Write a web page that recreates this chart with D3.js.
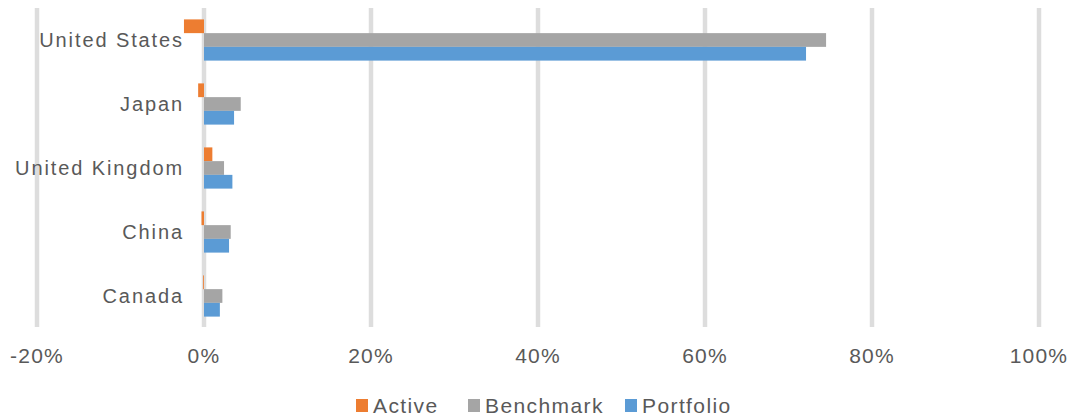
<!DOCTYPE html>
<html>
<head>
<meta charset="utf-8">
<script src="https://cdn.jsdelivr.net/npm/d3@7"></script>
<style>
  body { margin: 0; background: #fff; }
  text { font-family: "Liberation Sans", Arial, sans-serif; fill: #595959; }
</style>
</head>
<body>
<svg id="chart" width="1071" height="419"></svg>
<script>
// chart data (percent)
var countries = ["United States", "Japan", "United Kingdom", "China", "Canada"];
var seriesNames = ["Active", "Benchmark", "Portfolio"];
var active = [-2.4, -0.7, 1.0, -0.3, -0.1];
var benchmark = [74.5, 4.4, 2.4, 3.2, 2.2];
var portfolio = [72.1, 3.6, 3.4, 3.0, 1.9];
var xTicks = [-20, 0, 20, 40, 60, 80, 100];

var colors = {Active: "#ed7d31", Benchmark: "#a5a5a5", Portfolio: "#5b9bd5"};

// build rows from the arrays
var rows = countries.map(function(c, i) {
  return {country: c, values: [
    {name: "Active", value: active[i]},
    {name: "Benchmark", value: benchmark[i]},
    {name: "Portfolio", value: portfolio[i]}
  ]};
});

var svg = d3.select("#chart");

var x = d3.scaleLinear().domain([-20, 100]).range([37, 1039]);
var y0 = d3.scaleBand().domain(countries).range([8, 328]);
var y1 = d3.scaleBand().domain(seriesNames)
  .range([0, y0.bandwidth()])
  .paddingOuter(0.83);

// gridlines
svg.append("g").selectAll("line")
  .data(xTicks)
  .enter().append("line")
  .attr("x1", function(d) { return x(d); })
  .attr("x2", function(d) { return x(d); })
  .attr("y1", 8)
  .attr("y2", 327)
  .attr("stroke", "#dddddd")
  .attr("stroke-width", 4.5);

// bars
var group = svg.append("g").selectAll("g")
  .data(rows)
  .enter().append("g")
  .attr("transform", function(d) { return "translate(0," + y0(d.country) + ")"; });

group.selectAll("rect")
  .data(function(d) { return d.values; })
  .enter().append("rect")
  .attr("x", function(d) { return x(Math.min(0, d.value)); })
  .attr("width", function(d) { return Math.abs(x(d.value) - x(0)); })
  .attr("y", function(d) { return y1(d.name); })
  .attr("height", y1.bandwidth())
  .attr("fill", function(d) { return colors[d.name]; });

// category labels
svg.append("g").selectAll("text")
  .data(countries)
  .enter().append("text")
  .attr("x", 184)
  .attr("y", function(d) { return y0(d) + y0.bandwidth() / 2 + 7; })
  .attr("text-anchor", "end")
  .style("font-size", "20px")
  .style("letter-spacing", "1.9px")
  .text(function(d) { return d; });

// x tick labels
svg.append("g").selectAll("text")
  .data(xTicks)
  .enter().append("text")
  .attr("x", function(d) { return x(d); })
  .attr("y", 363)
  .attr("text-anchor", "middle")
  .style("font-size", "21px")
  .style("letter-spacing", "1.2px")
  .text(function(d) { return d + "%"; });

// legend
var legendX = [356, 468, 625];
var legend = svg.append("g").selectAll("g")
  .data(seriesNames)
  .enter().append("g")
  .attr("transform", function(d, i) { return "translate(" + legendX[i] + ",0)"; });

legend.append("rect")
  .attr("x", 0)
  .attr("y", 399)
  .attr("width", 12)
  .attr("height", 13)
  .attr("fill", function(d) { return colors[d]; });

legend.append("text")
  .attr("x", 17)
  .attr("y", 413)
  .style("font-size", "21px")
  .style("letter-spacing", "1.4px")
  .text(function(d) { return d; });
</script>
</body>
</html>
